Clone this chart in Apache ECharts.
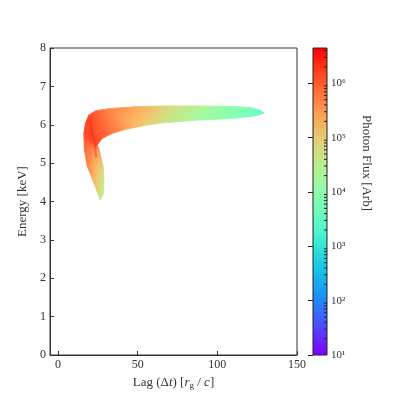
<!DOCTYPE html>
<html>
<head>
<meta charset="utf-8">
<script src="https://cdn.jsdelivr.net/npm/echarts@6/dist/echarts.min.js"></script>
<style>
  html, body { margin: 0; padding: 0; background: #fff; }
  #main { width: 399px; height: 399px; }
</style>
</head>
<body>
<div id="main"></div>
<script>
// tick labels
const lagTicks = [0, 50, 100, 150];
const fluxMin = 10;
const fluxMax = 4.47e6;

// band outline, lower tip -> elbow -> right tip  [lag, energy]
const bandOuter = [
  [26.6, 4.04], [24.0, 4.32], [20.5, 4.70], [18.3, 4.92], [16.6, 5.34],
  [16.2, 5.77], [17.3, 6.05], [19.3, 6.25], [23.5, 6.36], [31.8, 6.42],
  [48.5, 6.47], [66.0, 6.49], [87.0, 6.49], [108.0, 6.48], [120.5, 6.45],
  [126.8, 6.38], [128.9, 6.31]
];
const bandInner = [
  [26.6, 4.04], [28.7, 4.22], [28.8, 4.60], [28.4, 4.90], [26.0, 5.34],
  [24.5, 5.47], [27.7, 5.64], [33.9, 5.77], [42.3, 5.88], [48.5, 5.93],
  [55.0, 5.99], [66.3, 6.05], [87.2, 6.12], [108.0, 6.16], [120.5, 6.21],
  [126.8, 6.26], [128.9, 6.31]
];
// photon flux at outer / inner edge of each station
const fluxOuter = [3e4, 1.2e5, 3e5, 5e5, 8e5, 1.3e6, 1.6e6, 1.4e6, 9e5, 5e5,
  2.5e5, 8e4, 2.5e4, 1e4, 6e3, 4.5e3, 4e3];
const fluxInner = [3e4, 3e4, 4e4, 7e4, 2.5e5, 1.6e6, 1e6, 6e5, 3e5, 1.5e5,
  1e5, 5e4, 1.8e4, 8e3, 5e3, 4.5e3, 4e3];

// bright ridge inside the elbow
const ridgeLag = [20.0, 21.2, 23.0, 24.0];
const ridgeEnergy = [6.15, 5.85, 5.50, 5.15];

const minorFlux = [];
for (let k = 1; k <= 6; k++) {
  for (let m = 2; m <= 9; m++) {
    const v = m * Math.pow(10, k);
    if (v < fluxMax) minorFlux.push(v);
  }
}

const serif = "Liberation Serif";
const sup = { 1: "\u00b9", 2: "\u00b2", 3: "\u00b3", 4: "\u2074", 5: "\u2075", 6: "\u2076" };

// matplotlib "rainbow"
function rainbow(t) {
  t = Math.max(0, Math.min(1, t));
  const r = Math.min(1, Math.abs(2 * t - 0.5));
  const g = Math.sin(Math.PI * t);
  const b = Math.cos(Math.PI * t / 2);
  return "rgb(" + Math.round(r * 255) + "," + Math.round(g * 255) + "," + Math.round(b * 255) + ")";
}
const lmin = Math.log10(fluxMin);
const lmax = Math.log10(fluxMax);
function logColor(l) {
  return rainbow((l - lmin) / (lmax - lmin));
}
function mix(a, b, f) {
  return [a[0] + (b[0] - a[0]) * f, a[1] + (b[1] - a[1]) * f];
}

const chart = echarts.init(document.getElementById("main"));

const segments = bandOuter.slice(0, -1).map((_, i) => [i]);
const STRIPS = 6;

const option = {
  animation: false,
  backgroundColor: "#fff",
  grid: [
    { left: 50, top: 48, width: 247, height: 307, show: true, borderColor: "#333", borderWidth: 1 },
    { left: 313, top: 48, width: 14, height: 307 }
  ],
  xAxis: [
    {
      gridIndex: 0,
      type: "value",
      min: -5,
      max: 150,
      axisLine: { onZero: false, lineStyle: { color: "#333", width: 1 } },
      axisTick: { inside: true, length: 4, customValues: lagTicks, lineStyle: { color: "#333" } },
      axisLabel: { customValues: lagTicks, fontFamily: serif, fontSize: 12, color: "#333", margin: 4 },
      splitLine: { show: false },
      name: "Lag (\u0394{i|t}) [{i|r}{s|g} / {i|c}]",
      nameLocation: "middle",
      nameGap: 15,
      nameTextStyle: {
        fontFamily: serif, fontSize: 13, color: "#333",
        rich: {
          i: { fontFamily: serif, fontStyle: "italic", fontSize: 13, color: "#333" },
          s: { fontFamily: serif, fontSize: 9, color: "#333", padding: [6, 0, 0, 0] }
        }
      }
    },
    { gridIndex: 1, type: "value", min: 0, max: 1, show: false }
  ],
  yAxis: [
    {
      gridIndex: 0,
      type: "value",
      min: 0,
      max: 8,
      interval: 1,
      axisLine: { onZero: false, lineStyle: { color: "#333", width: 1 } },
      axisTick: { inside: true, length: 4, lineStyle: { color: "#333" } },
      axisLabel: { fontFamily: serif, fontSize: 12, color: "#333", margin: 4 },
      splitLine: { show: false },
      name: "Energy [keV]",
      nameLocation: "middle",
      nameGap: 17,
      nameTextStyle: { fontFamily: serif, fontSize: 13, color: "#333" }
    },
    {
      gridIndex: 1,
      type: "log",
      min: fluxMin,
      max: fluxMax,
      position: "right",
      axisLine: { show: false },
      axisTick: { inside: true, length: 5, lineStyle: { color: "#222" } },
      axisLabel: {
        fontFamily: serif, fontSize: 11, color: "#333", margin: 4,
        showMaxLabel: false,
        formatter: v => {
          const e = Math.round(Math.log10(v));
          return "10" + (sup[e] || "");
        }
      },
      splitLine: { show: false }
    }
  ],
  graphic: [
    {
      type: "text",
      x: 366,
      y: 163,
      rotation: -Math.PI / 2,
      style: {
        text: "Photon Flux [Arb]",
        fontFamily: serif,
        fontSize: 13,
        fill: "#333",
        align: "center",
        verticalAlign: "middle"
      }
    }
  ],
  series: [
    {
      type: "custom",
      xAxisIndex: 0,
      yAxisIndex: 0,
      data: segments,
      clip: true,
      renderItem: (params, api) => {
        const i = api.value(0);
        const o0 = api.coord(bandOuter[i]);
        const o1 = api.coord(bandOuter[i + 1]);
        const n1 = api.coord(bandInner[i + 1]);
        const n0 = api.coord(bandInner[i]);
        const lo0 = Math.log10(fluxOuter[i]), li0 = Math.log10(fluxInner[i]);
        const lo1 = Math.log10(fluxOuter[i + 1]), li1 = Math.log10(fluxInner[i + 1]);
        const children = [];
        for (let s = 0; s < STRIPS; s++) {
          const f0 = s / STRIPS, f1 = (s + 1) / STRIPS, fm = (s + 0.5) / STRIPS;
          const a0 = mix(o0, n0, f0), a1 = mix(o0, n0, f1);
          const b0 = mix(o1, n1, f0), b1 = mix(o1, n1, f1);
          const am = mix(o0, n0, fm), bm = mix(o1, n1, fm);
          const grad = {
            type: "linear",
            global: true,
            x: am[0], y: am[1], x2: bm[0], y2: bm[1],
            colorStops: [
              { offset: 0, color: logColor(lo0 + (li0 - lo0) * fm) },
              { offset: 1, color: logColor(lo1 + (li1 - lo1) * fm) }
            ]
          };
          children.push({
            type: "polygon",
            shape: { points: [a0, b0, b1, a1] },
            style: { fill: grad, stroke: grad, lineWidth: 0.8 }
          });
        }
        return { type: "group", children: children };
      },
      z: 2
    },
    {
      type: "custom",
      xAxisIndex: 0,
      yAxisIndex: 0,
      data: [[0]],
      renderItem: (params, api) => {
        const pts = ridgeLag.map((x, i) => api.coord([x, ridgeEnergy[i]]));
        return {
          type: "polyline",
          shape: { points: pts, smooth: 0.3 },
          style: { stroke: "rgba(235,35,15,0.4)", lineWidth: 2, fill: null }
        };
      },
      z: 3
    },
    {
      type: "custom",
      xAxisIndex: 1,
      yAxisIndex: 1,
      data: [[0, fluxMin]],
      renderItem: (params, api) => {
        const p0 = api.coord([0, fluxMax]);
        const p1 = api.coord([1, fluxMin]);
        const stops = [];
        for (let k = 0; k <= 10; k++) {
          stops.push({ offset: k / 10, color: rainbow(1 - k / 10) });
        }
        return {
          type: "rect",
          shape: { x: p0[0], y: p0[1], width: p1[0] - p0[0], height: p1[1] - p0[1] },
          style: {
            fill: { type: "linear", x: 0, y: 0, x2: 0, y2: 1, colorStops: stops },
            stroke: "#222",
            lineWidth: 1
          }
        };
      },
      z: 1
    },
    {
      type: "custom",
      xAxisIndex: 1,
      yAxisIndex: 1,
      data: minorFlux.map(v => [1, v]),
      renderItem: (params, api) => {
        const p = api.coord([1, api.value(1)]);
        return {
          type: "line",
          shape: { x1: p[0], y1: p[1], x2: p[0] - 3, y2: p[1] },
          style: { stroke: "#222", lineWidth: 1 }
        };
      },
      z: 3
    }
  ]
};

chart.setOption(option);
</script>
</body>
</html>
